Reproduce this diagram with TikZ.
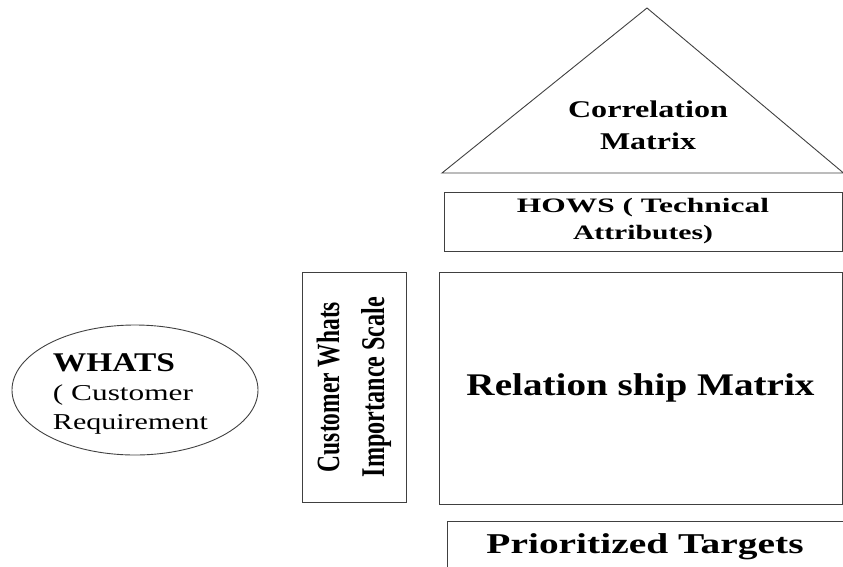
\documentclass[tikz,border=0pt]{standalone}
\usepackage{fontspec}
\setmainfont{Liberation Serif}
\usetikzlibrary{shapes.geometric}
\newcommand\fitw[2]{\resizebox{#1}{\height}{#2}}
\newcommand\fitwh[3]{\resizebox{#1}{#2}{#3}}
\begin{document}
\begin{tikzpicture}[x=1pt,y=-1pt,
  line/.style={draw=black!75, line width=0.9pt},
  frame/.style={line, rectangle, inner sep=0pt, outer sep=0pt},
  oval/.style={line, ellipse, inner sep=0pt, outer sep=0pt},
  txt/.style={inner sep=0pt, outer sep=0pt, text=black}]
\useasboundingbox (0,0) rectangle (843,566);
% roof
\coordinate (tl) at (442,173);
\coordinate (tt) at (647,8);
\coordinate (tr) at (843.5,173);
\draw[line, line join=miter] (tl) -- (tt) -- (tr) -- cycle;
\node[txt, align=center, font=\bfseries\fontsize{24}{32}\selectfont] (corr) at (648,125)
  {\fitw{160pt}{Correlation}\\\fitw{96pt}{Matrix}};
% hows
\node[frame, minimum width=398pt, minimum height=59pt, align=center,
  font=\bfseries\fontsize{20.5}{27}\selectfont] (hows) at (643,221.5)
  {\fitw{252pt}{HOWS ( Technical}\\\fitw{140pt}{Attributes)}};
% relationship
\node[frame, minimum width=403pt, minimum height=232pt,
  font=\bfseries\fontsize{31.5}{36}\selectfont] (rel) at (640.5,388)
  {\fitw{348pt}{Relation ship Matrix}};
% prioritized
\node[frame, minimum width=396pt, minimum height=52pt,
  font=\bfseries\fontsize{28.7}{34}\selectfont] (prio) at (645,547)
  {\fitw{317pt}{Prioritized Targets}};
% importance scale
\node[frame, rotate=90, minimum width=230pt, minimum height=104pt, align=center,
  font=\bfseries\fontsize{24}{45}\selectfont] (imp) at (354,387)
  {\fitwh{170pt}{22.5pt}{Customer Whats}\\\fitwh{180pt}{23pt}{Importance Scale}};
% whats
\node[oval, minimum width=246pt, minimum height=130pt] (whats) at (135,390) {};
\node[txt, align=left, font=\fontsize{22.7}{29}\selectfont] (whatstext) at (130.5,394)
  {{\bfseries\fontsize{27}{29}\selectfont\fitw{122pt}{WHATS}}\\\fitw{140pt}{( Customer}\\\fitw{155pt}{Requirement}};
\end{tikzpicture}
\end{document}
